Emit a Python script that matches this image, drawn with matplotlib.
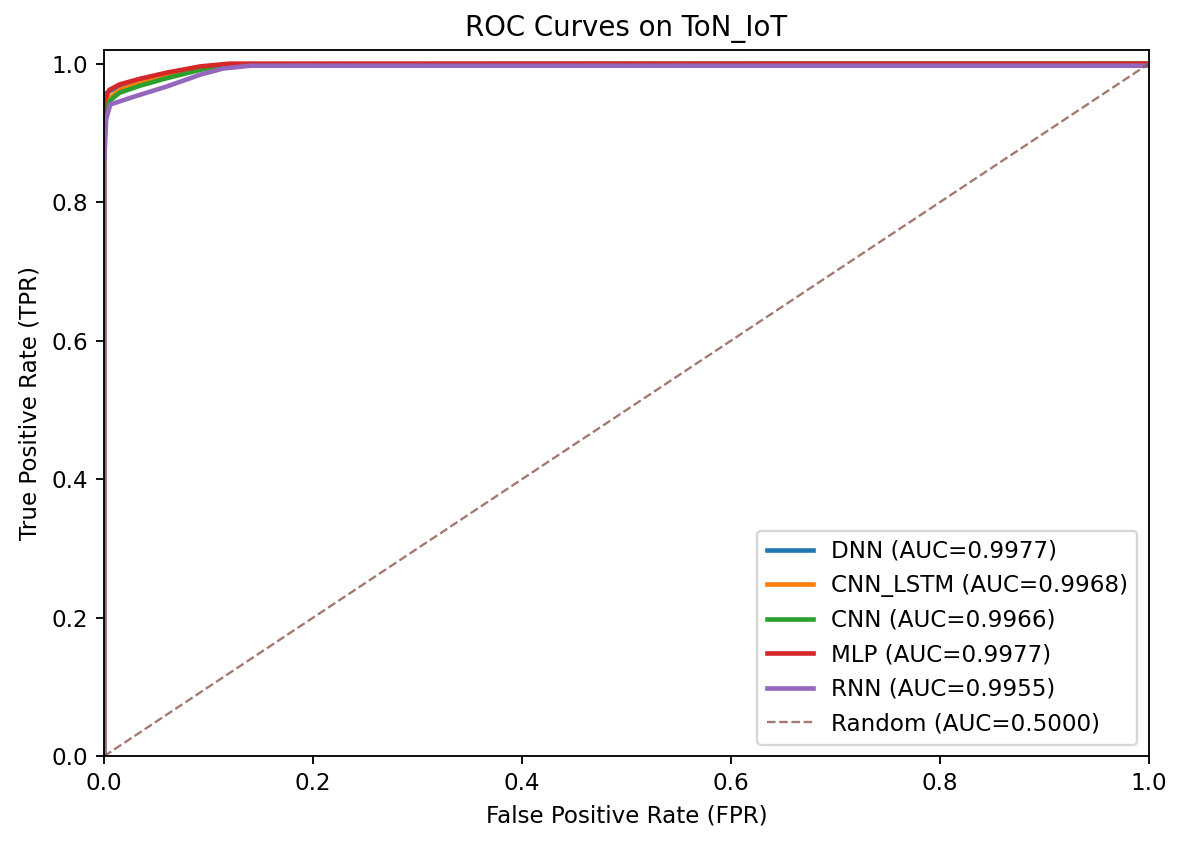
import matplotlib
matplotlib.use("Agg")
import matplotlib.pyplot as plt

models = ["DNN", "CNN_LSTM", "CNN", "MLP", "RNN"]
aucs = [0.9977, 0.9968, 0.9966, 0.9977, 0.9955]
colors = ["#1f77b4", "#ff7f0e", "#2ca02c", "#d62728", "#9467bd"]

fpr_dnn = [0, 0, 0.005, 0.015, 0.034, 0.06, 0.092, 0.12, 1.0]
tpr_dnn = [0, 0.955, 0.960, 0.968, 0.977, 0.986, 0.995, 0.999, 1.0]
fpr_cnnlstm = [0, 0, 0.005, 0.015, 0.034, 0.06, 0.092, 0.12, 1.0]
tpr_cnnlstm = [0, 0.935, 0.950, 0.962, 0.972, 0.982, 0.993, 0.999, 1.0]
fpr_cnn = [0, 0, 0.005, 0.015, 0.034, 0.06, 0.092, 0.12, 1.0]
tpr_cnn = [0, 0.930, 0.946, 0.958, 0.968, 0.979, 0.991, 0.999, 1.0]
fpr_mlp = [0, 0, 0.005, 0.015, 0.034, 0.06, 0.092, 0.12, 1.0]
tpr_mlp = [0, 0.945, 0.962, 0.970, 0.978, 0.987, 0.996, 1.0, 1.0]
fpr_rnn = [0, 0, 0.002, 0.006, 0.028, 0.06, 0.092, 0.114, 0.14, 1.0]
tpr_rnn = [0, 0.850, 0.920, 0.941, 0.952, 0.967, 0.984, 0.993, 0.997, 0.997]

fprs = [fpr_dnn, fpr_cnnlstm, fpr_cnn, fpr_mlp, fpr_rnn]
tprs = [tpr_dnn, tpr_cnnlstm, tpr_cnn, tpr_mlp, tpr_rnn]

DPI = 166
fig = plt.figure(figsize=(1182 / DPI, 844 / DPI), dpi=DPI)
ax = fig.add_axes([0.088, 0.104, 0.884, 0.837])
for name, auc, c, f, t in zip(models, aucs, colors, fprs, tprs):
    ax.plot(f, t, color=c, lw=2, label=f"{name} (AUC={auc:.4f})")
ax.plot([0, 1], [0, 1], "--", color="#8c564b", alpha=0.8, lw=1, label="Random (AUC=0.5000)")
ax.set_xlim(0, 1)
ax.set_ylim(0, 1.02)
ax.set_xlabel("False Positive Rate (FPR)")
ax.set_ylabel("True Positive Rate (TPR)")
ax.set_title("ROC Curves on ToN_IoT")
ax.legend(loc="lower right")
fig.savefig("out.png", dpi=DPI)
